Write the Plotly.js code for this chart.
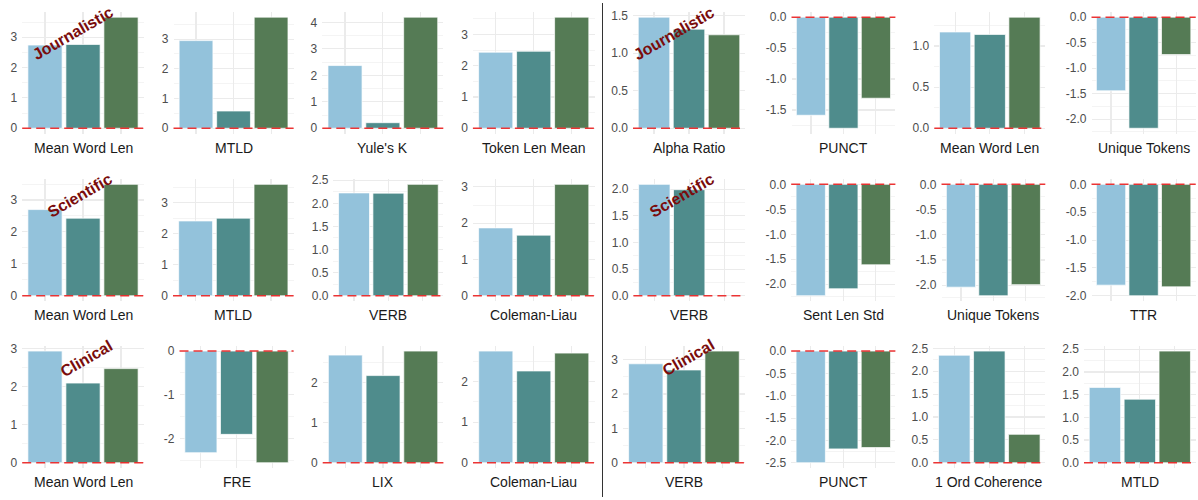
<!DOCTYPE html>
<html><head><meta charset="utf-8">
<script src="https://cdn.plot.ly/plotly-3.0.1.min.js"></script>
<style>html,body{margin:0;padding:0;background:#fff}#chart{width:1198px;height:500px}</style>
</head><body><div id="chart"></div>
<script>
// ---------------- data ----------------
const groupLabels = ["Journalistic", "Scientific", "Clinical"];
const barCategories = ["A", "B", "C"];

const journalisticMetrics = ["Mean Word Len", "MTLD", "Yule's K", "Token Len Mean", "Alpha Ratio", "PUNCT", "Mean Word Len", "Unique Tokens"];
const journalisticValues = [
  [2.74, 2.76, 3.66], [2.95, 0.58, 3.74], [2.37, 0.21, 4.20], [2.43, 2.46, 3.55],
  [1.48, 1.32, 1.245], [-1.585, -1.795, -1.31], [1.17, 1.14, 1.35], [-1.445, -2.18, -0.735]
];

const scientificMetrics = ["Mean Word Len", "MTLD", "VERB", "Coleman-Liau", "VERB", "Sent Len Std", "Unique Tokens", "TTR"];
const scientificValues = [
  [2.70, 2.43, 3.49], [2.41, 2.50, 3.59], [2.225, 2.22, 2.41], [1.87, 1.67, 3.07],
  [2.09, 1.99, null], [-2.23, -2.09, -1.61], [-2.04, -2.21, -1.99], [-1.81, -2.00, -1.84]
];

const clinicalMetrics = ["Mean Word Len", "FRE", "LIX", "Coleman-Liau", "VERB", "PUNCT", "1 Ord Coherence", "MTLD"];
const clinicalValues = [
  [2.93, 2.09, 2.47], [-2.33, -1.91, -2.56], [2.68, 2.17, 2.78], [2.75, 2.26, 2.70],
  [2.88, 2.70, 3.25], [-2.50, -2.19, -2.16], [2.35, 2.44, 0.62], [1.66, 1.40, 2.46]
];

// ---------------- layout / style ----------------
const rowMetrics = [journalisticMetrics, scientificMetrics, clinicalMetrics];
const rowValues = [journalisticValues, scientificValues, clinicalValues];
const barColors = ["#93c2db", "#4f8c8c", "#557b55"];
const W = 1198, H = 500;
const panelLeft = [
  [22.2, 173.5, 322.3, 472.9, 633.0, 791.5, 934.3, 1091.5],
  [22.2, 173.0, 333.4, 472.9, 633.4, 791.2, 941.5, 1091.5],
  [22.2, 179.5, 322.7, 473.0, 622.9, 791.2, 933.3, 1084.0]
];
const panelRight = [143.8, 293.6, 443.4, 594.5, 745.0, 895.4, 1045.3, 1195.7];
const rowTop = [11.6, 178.8, 345.5];
const rowBottom = [133.8, 301.3, 468.3];
const tickStep = [
  [1, 1, 1, 1, 0.5, 0.5, 0.5, 0.5],
  [1, 1, 0.5, 1, 0.5, 0.5, 0.5, 0.5],
  [1, 1, 1, 1, 1, 0.5, 0.5, 0.5]
];
const groupLabelPos = [[72.5, 33.5], [79.5, 195], [86.5, 358.5], [674, 33.5], [681.5, 195], [688.5, 357.5]];
const FONT = "Liberation Sans, Arial, Helvetica, sans-serif";

function fmt(v, step) {
  const d = step < 1 ? 1 : 0;
  return Math.abs(v) < 1e-9 ? (0).toFixed(d) : v.toFixed(d);
}

const traces = [];
const layout = {
  width: W, height: H,
  margin: {l: 0, r: 0, t: 0, b: 0},
  paper_bgcolor: "#ffffff", plot_bgcolor: "#ffffff",
  showlegend: false, hovermode: false,
  font: {family: FONT},
  shapes: [], annotations: []
};

for (let r = 0; r < 3; r++) {
  for (let c = 0; c < 8; c++) {
    const idx = r * 8 + c + 1;
    const xk = idx === 1 ? "x" : "x" + idx;
    const yk = idx === 1 ? "y" : "y" + idx;
    const vals = rowValues[r][c];
    traces.push({
      type: "bar", x: barCategories, y: vals, xaxis: xk, yaxis: yk,
      width: 0.9,
      marker: {color: barColors, line: {color: "#ffffff", width: 0.7}},
      hoverinfo: "skip"
    });
    const nums = vals.filter(v => v !== null);
    const lo = Math.min(0, ...nums), hi = Math.max(0, ...nums);
    const pad = (hi - lo) * 0.05;
    const yr = [lo - pad, hi + pad];
    const step = tickStep[r][c];
    const major = [], minor = [];
    for (let k = Math.ceil(yr[0] / (step / 2)); k * step / 2 <= yr[1]; k++) {
      const v = +(k * step / 2).toFixed(6);
      if (k % 2 === 0) major.push(v); else minor.push(v);
    }
    const left = panelLeft[r][c], right = panelRight[c];
    layout["xaxis" + (idx === 1 ? "" : idx)] = {
      domain: [left / W, right / W], anchor: yk,
      type: "category", range: [-0.6, 2.6], fixedrange: true,
      showticklabels: false, ticks: "", showline: false, zeroline: false,
      showgrid: true, gridcolor: "#ebebeb", gridwidth: 1.1
    };
    layout["yaxis" + (idx === 1 ? "" : idx)] = {
      domain: [1 - rowBottom[r] / H, 1 - rowTop[r] / H], anchor: xk,
      range: yr, fixedrange: true,
      tickmode: "array", tickvals: major, ticktext: major.map(v => fmt(v, step)),
      ticks: "", ticklabelstandoff: 4,
      tickfont: {family: FONT, size: 12, color: "#4d4d4d"},
      showline: false, zeroline: false,
      showgrid: true, gridcolor: "#ebebeb", gridwidth: 1.1,
      minor: {tickmode: "array", tickvals: minor, showgrid: true, gridcolor: "#ebebeb", gridwidth: 0.55, ticks: ""}
    };
    layout.shapes.push({
      type: "line", xref: xk + " domain", yref: yk, x0: 0, x1: 1, y0: 0, y1: 0,
      line: {color: "rgba(235,20,20,0.85)", width: 1.5, dash: "9px,5px"}, layer: "above"
    });
    layout.annotations.push({
      xref: "paper", yref: "paper", x: (left + right) / 2 / W, y: 1 - (rowBottom[r] + 13.8) / H,
      xanchor: "center", yanchor: "middle", showarrow: false,
      text: rowMetrics[r][c], font: {family: FONT, size: 14, color: "#1a1a1a"}
    });
  }
}

for (let i = 0; i < 6; i++) {
  const p = groupLabelPos[i];
  layout.annotations.push({
    xref: "paper", yref: "paper", x: p[0] / W, y: 1 - p[1] / H,
    xanchor: "center", yanchor: "middle", showarrow: false, textangle: -30,
    text: "<b>" + groupLabels[i % 3] + "</b>",
    font: {family: FONT, size: 16, color: "#7a0c0c"}
  });
}

layout.shapes.push({
  type: "line", xref: "paper", yref: "paper",
  x0: 602.5 / W, x1: 602.5 / W, y0: 1 - 497 / H, y1: 1 - 3 / H,
  line: {color: "#333333", width: 1}, layer: "above"
});

Plotly.newPlot("chart", traces, layout, {displayModeBar: false, staticPlot: true});
</script>
</body></html>
